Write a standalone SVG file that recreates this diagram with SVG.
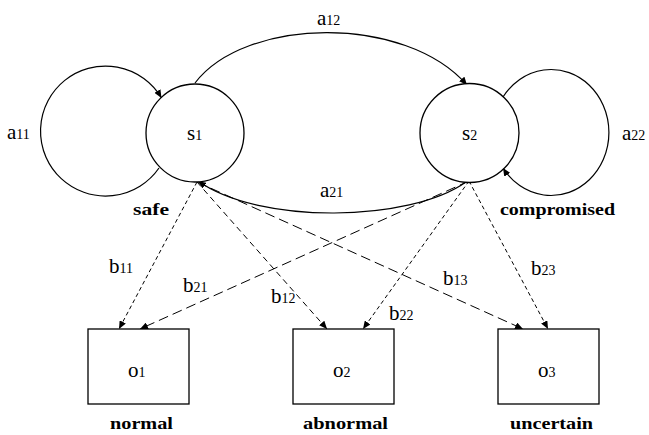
<svg xmlns="http://www.w3.org/2000/svg" width="649" height="435" viewBox="0 0 649 435">
<style>
.node{fill:#fff;stroke:#000;stroke-width:1.3}
.lbl{font-family:"Liberation Serif","Times New Roman",serif;font-size:21px;fill:#000}
.sub{font-size:14px}
.bold{font-family:"Liberation Serif","Times New Roman",serif;font-size:17px;font-weight:bold;fill:#000}
.solid{fill:none;stroke:#000;stroke-width:1.2}
.dash{fill:none;stroke:#000;stroke-width:1}
.d1{stroke-dasharray:4 3}
.d2{stroke-dasharray:6 4}
.d3{stroke-dasharray:10 5}
</style>
<defs>
<marker id="arr" markerUnits="userSpaceOnUse" markerWidth="9" markerHeight="7" refX="8" refY="3.5" orient="auto">
<path d="M0,0 L8,3.5 L0,7 z" fill="#000"/>
</marker>
</defs>
<rect width="649" height="435" fill="#fff"/>
<g id="connectors">
<path class="solid" d="M159,168 A65,65 0 1 1 161.5,98" marker-end="url(#arr)"/>
<path class="solid" d="M503,97 A58,63 0 1 1 503,168" marker-end="url(#arr)"/>
<path class="solid" d="M195,83 C245,17 405,14 467,85" marker-end="url(#arr)"/>
<path class="solid" d="M466,182 C410,222 260,225 198,181" marker-end="url(#arr)"/>
<line class="dash d1" x1="197" y1="182" x2="119" y2="329" marker-end="url(#arr)"/>
<line class="dash d2" x1="197" y1="182" x2="327" y2="329" marker-end="url(#arr)"/>
<line class="dash d3" x1="197" y1="182" x2="523" y2="329" marker-end="url(#arr)"/>
<line class="dash d3" x1="469" y1="181" x2="140" y2="329" marker-end="url(#arr)"/>
<line class="dash d1" x1="469" y1="181" x2="363" y2="329" marker-end="url(#arr)"/>
<line class="dash d1" x1="469" y1="181" x2="548" y2="329" marker-end="url(#arr)"/>
</g>
<g id="s1">
<circle class="node" cx="195" cy="133" r="49"/>
<text class="lbl" x="187" y="140">s<tspan class="sub">1</tspan></text>
<text class="bold" x="133" y="215" textLength="36" lengthAdjust="spacingAndGlyphs">safe</text>
</g>
<g id="s2">
<circle class="node" cx="469.5" cy="133" r="49.5"/>
<text class="lbl" x="462" y="140">s<tspan class="sub">2</tspan></text>
<text class="bold" x="500" y="215" textLength="115" lengthAdjust="spacingAndGlyphs">compromised</text>
</g>
<g id="o1">
<rect class="node" x="88" y="329" width="101" height="75"/>
<text class="lbl" x="128" y="377">o<tspan class="sub">1</tspan></text>
<text class="bold" x="110" y="429" textLength="63" lengthAdjust="spacingAndGlyphs">normal</text>
</g>
<g id="o2">
<rect class="node" x="293" y="329" width="101" height="75"/>
<text class="lbl" x="333" y="377">o<tspan class="sub">2</tspan></text>
<text class="bold" x="303" y="429" textLength="85" lengthAdjust="spacingAndGlyphs">abnormal</text>
</g>
<g id="o3">
<rect class="node" x="498" y="329" width="101" height="75"/>
<text class="lbl" x="538" y="377">o<tspan class="sub">3</tspan></text>
<text class="bold" x="510" y="429" textLength="83" lengthAdjust="spacingAndGlyphs">uncertain</text>
</g>
<g id="edge-labels">
<text class="lbl" x="7" y="139">a<tspan class="sub">11</tspan></text>
<text class="lbl" x="317" y="25">a<tspan class="sub">12</tspan></text>
<text class="lbl" x="320" y="197">a<tspan class="sub">21</tspan></text>
<text class="lbl" x="622" y="140">a<tspan class="sub">22</tspan></text>
<text class="lbl" x="109" y="273">b<tspan class="sub">11</tspan></text>
<text class="lbl" x="183" y="292">b<tspan class="sub">21</tspan></text>
<text class="lbl" x="271" y="303">b<tspan class="sub">12</tspan></text>
<text class="lbl" x="443" y="285">b<tspan class="sub">13</tspan></text>
<text class="lbl" x="389" y="320">b<tspan class="sub">22</tspan></text>
<text class="lbl" x="531" y="275">b<tspan class="sub">23</tspan></text>
</g>
</svg>
